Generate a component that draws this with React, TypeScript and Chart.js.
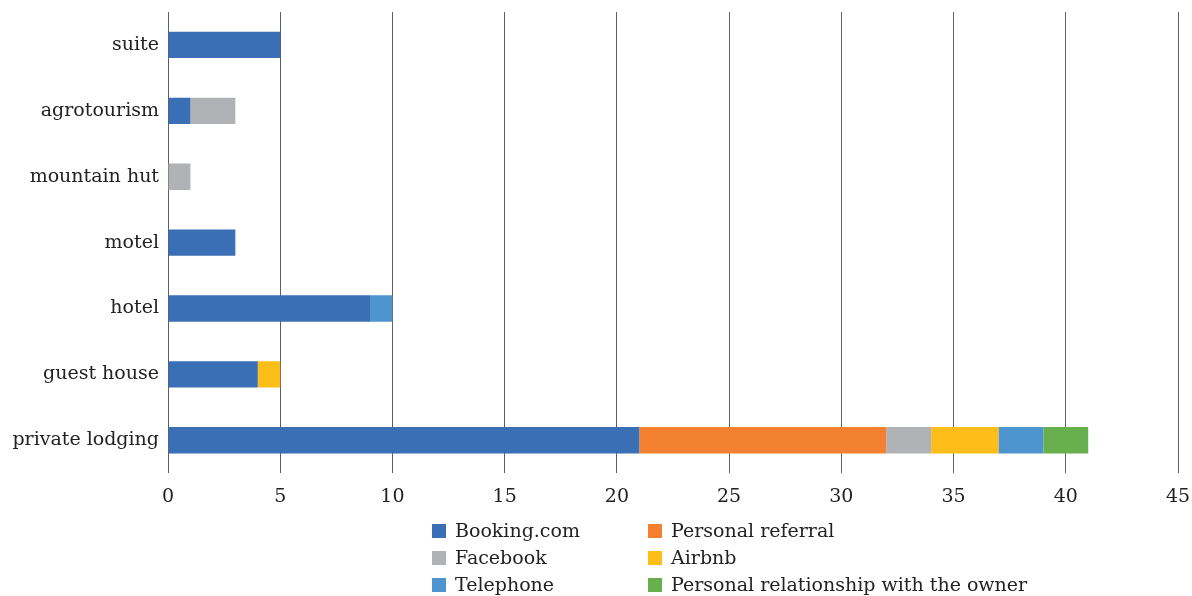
import React, { useEffect, useRef } from "react";
import { Chart, registerables } from "chart.js";

Chart.register(...registerables);

const categories = ["suite", "agrotourism", "mountain hut", "motel", "hotel", "guest house", "private lodging"];
const seriesNames = ["Booking.com", "Personal referral", "Facebook", "Airbnb", "Telephone", "Personal relationship with the owner"];
const booking = [5, 1, null, 3, 9, 4, 21];
const personalReferral = [null, null, null, null, null, null, 11];
const facebook = [null, 2, 1, null, null, null, 2];
const airbnb = [null, null, null, null, null, 1, 3];
const telephone = [null, null, null, null, 1, null, 2];
const personalRelationship = [null, null, null, null, null, null, 2];
const xTickValues = [0, 5, 10, 15, 20, 25, 30, 35, 40, 45];
const seriesColors = ["#3A6FB6", "#F4812F", "#B1B2B5", "#FDBE1A", "#4E95D0", "#67B04D"];

const FONT = "'DejaVu Serif', serif";
const FONT_SIZE = 19;

const legendPlugin = {
  id: "gridLegend",
  afterDraw(chart: any) {
    const ctx = chart.ctx;
    const left = 432;
    const colW = 216;
    const top = 524;
    const rowH = 27;
    const box = 14;
    ctx.save();
    ctx.font = `${FONT_SIZE}px ${FONT}`;
    ctx.textBaseline = "middle";
    ctx.textAlign = "left";
    chart.data.datasets.forEach((ds: any, i: number) => {
      const col = i % 2;
      const row = Math.floor(i / 2);
      const x = left + col * colW;
      const y = top + row * rowH;
      ctx.fillStyle = ds.backgroundColor;
      ctx.fillRect(x, y, box, box);
      ctx.fillStyle = "#222";
      ctx.fillText(ds.label, x + box + 9, y + box / 2 + 1);
    });
    ctx.restore();
  },
};

export default function App() {
  const ref = useRef<HTMLCanvasElement>(null);
  useEffect(() => {
    if (!ref.current) return;
    const seriesData = [booking, personalReferral, facebook, airbnb, telephone, personalRelationship];
    const chart = new Chart(ref.current, {
      type: "bar",
      data: {
        labels: categories,
        datasets: seriesNames.map((name, i) => ({
          label: name,
          data: seriesData[i] as any,
          backgroundColor: seriesColors[i],
          borderWidth: 0,
          barPercentage: 0.4,
          categoryPercentage: 1,
        })),
      },
      options: {
        indexAxis: "y",
        animation: false,
        responsive: false,
        layout: { padding: { top: 12, right: 14, bottom: 76, left: 0 } },
        plugins: { legend: { display: false }, tooltip: { enabled: false } },
        scales: {
          x: {
            stacked: true,
            min: 0,
            max: 45,
            afterBuildTicks: (s: any) => {
              s.ticks = xTickValues.map((v) => ({ value: v }));
            },
            afterFit: (s: any) => {
              s.paddingLeft = 0;
              s.paddingRight = 0;
            },
            grid: { color: "#5f5f5f", lineWidth: 1, drawTicks: false },
            border: { display: false },
            ticks: { font: { family: FONT, size: FONT_SIZE }, color: "#222", padding: 12 },
          },
          y: {
            stacked: true,
            grid: { display: false, drawTicks: false },
            border: { display: false },
            afterFit: (s: any) => {
              s.width = 168;
              s.paddingTop = 0;
              s.paddingBottom = 0;
            },
            ticks: { font: { family: FONT, size: FONT_SIZE }, color: "#222", padding: 9 },
          },
        },
      },
      plugins: [legendPlugin],
    });
    return () => chart.destroy();
  }, []);
  return (
    <div style={{ position: "fixed", left: 0, top: 0, width: 1192, height: 596, background: "#fff" }}>
      <canvas ref={ref} width={1192} height={596} style={{ display: "block" }} />
    </div>
  );
}
